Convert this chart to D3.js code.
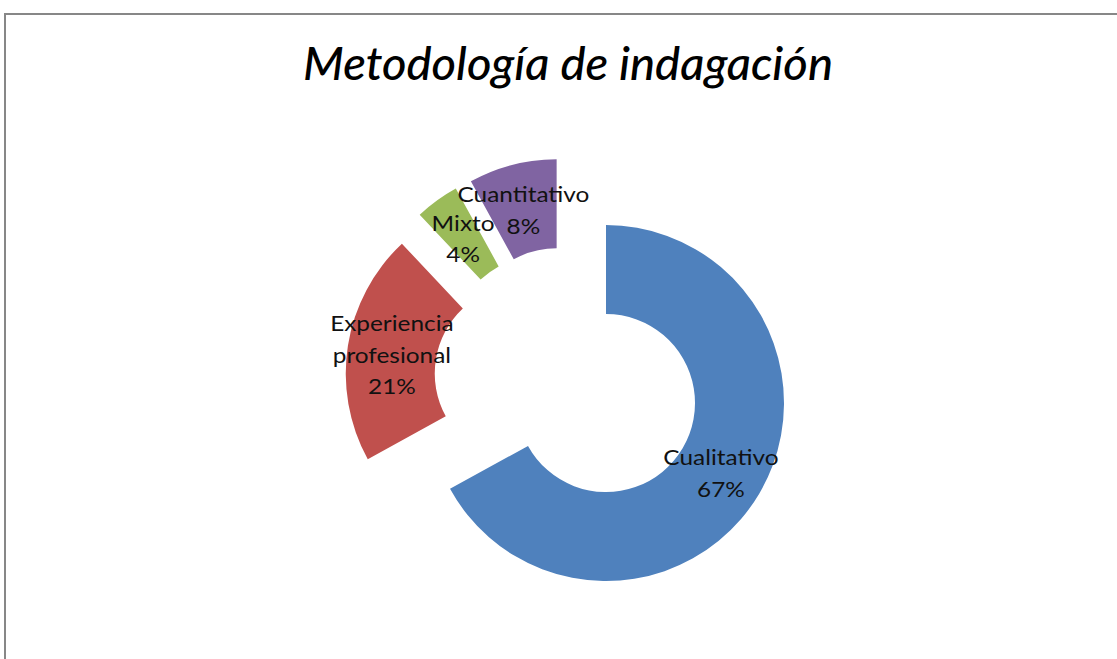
<!DOCTYPE html>
<html><head><meta charset="utf-8">
<script src="https://cdn.jsdelivr.net/npm/d3@7"></script>
<style>body{margin:0;background:#fff;overflow:hidden}</style>
</head><body>
<svg id="c" width="1117" height="659"></svg>
<script>
const categories = ["Cualitativo", "Experiencia profesional", "Mixto", "Cuantitativo"];
const values = [67, 21, 4, 8];
const labelLines = [["Cualitativo"], ["Experiencia", "profesional"], ["Mixto"], ["Cuantitativo"]];
const colors = ["#4F81BD", "#C0504D", "#9BBB59", "#8064A2"];
const title = "Metodología de indagación";

const svg = d3.select("#c");
svg.append("rect").attr("width",1117).attr("height",659).attr("fill","#fff");
// chart border
svg.append("path").attr("d","M5,700 L5,14 L1130,14").attr("fill","none")
  .attr("stroke","#878787").attr("stroke-width",2);

svg.append("text").attr("x",568).attr("y",80).attr("text-anchor","middle")
  .attr("font-family","Lato, 'Open Sans', sans-serif").attr("font-style","italic")
  .attr("font-weight",500)
  .attr("font-size",47).attr("fill","#000")
  .attr("textLength",530).attr("lengthAdjust","spacingAndGlyphs").text(title);

const cx = 567.7, cy = 380.4, explode = 44.5, R = 178, r0 = 89;
const total = d3.sum(values);
const pct = d3.format(".0%");
const arcs = d3.pie().sort(null).value(d => d)(values);
const arc = d3.arc().innerRadius(r0).outerRadius(R);
const g = svg.append("g");
arcs.forEach((p, i) => {
  const a = (p.startAngle + p.endAngle) / 2;
  const ox = cx + Math.sin(a) * explode, oy = cy - Math.cos(a) * explode;
  const sg = g.append("g").attr("transform", `translate(${ox},${oy})`);
  sg.append("path").attr("d", arc(p)).attr("fill", colors[i]);
  const [lx, ly] = arc.centroid(p);
  const lines = labelLines[i].concat([pct(values[i] / total)]);
  const lh = 31.5;
  const t = sg.append("text").attr("text-anchor","middle")
    .attr("font-family","Lato, 'Open Sans', sans-serif").attr("font-weight",400)
    .attr("font-size",21).attr("fill","#111");
  lines.forEach((s, k) => {
    const ts = t.append("tspan").attr("x", lx).attr("y", ly + (k - (lines.length - 1) / 2) * lh + 10).text(s);
    const w = ts.node().getComputedTextLength();
    ts.attr("textLength", w * 1.16).attr("lengthAdjust", "spacingAndGlyphs");
  });
});
</script>
</body></html>
